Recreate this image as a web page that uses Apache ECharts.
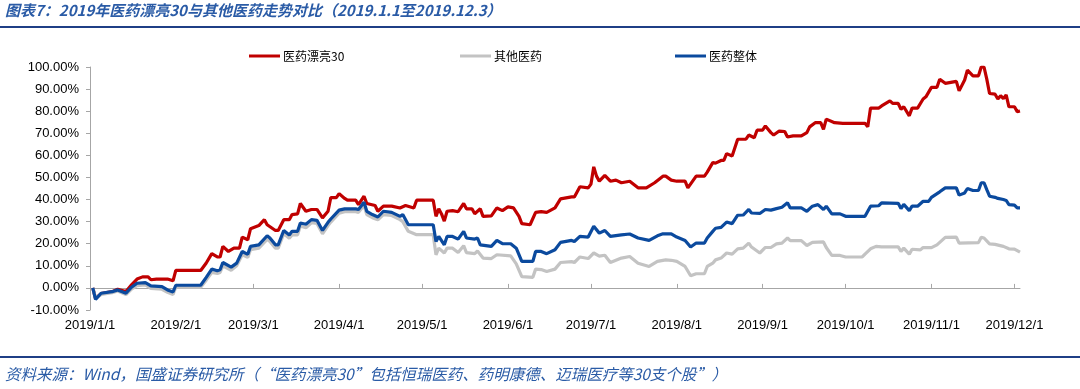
<!DOCTYPE html>
<html>
<head>
<meta charset="utf-8">
<script src="https://cdn.jsdelivr.net/npm/echarts@6/dist/echarts.min.js"></script>
<style>
html,body{margin:0;padding:0;background:#fff;}
#chart{width:1080px;height:389px;}
</style>
</head>
<body>
<div id="chart"></div>
<script>
// ---------- DATA ----------
const seriesNames = ['医药漂亮30', '其他医药', '医药整体'];
const monthTicks = ['2019-01-01','2019-02-01','2019-03-01','2019-04-01','2019-05-01','2019-06-01',
  '2019-07-01','2019-08-01','2019-09-01','2019-10-01','2019-11-01','2019-12-01'];
const yTicks = [-10,0,10,20,30,40,50,60,70,80,90,100];

const redDates = ['01-02','01-03','01-05','01-09','01-11','01-14','01-16','01-18','01-20','01-22','01-23','01-25','01-29','01-31',
 '02-01','02-10','02-12','02-14','02-16','02-17','02-18','02-20','02-22','02-24','02-25','02-27','02-28',
 '03-03','03-05','03-06','03-09','03-10','03-12','03-14','03-15','03-17','03-18','03-20','03-22','03-24','03-26','03-28','03-29','03-31',
 '04-01','04-03','04-04','04-07','04-08','04-10','04-11','04-14','04-15','04-17','04-20','04-23','04-25','04-28','04-29',
 '05-05','05-06','05-07','05-08','05-09','05-10','05-12','05-14','05-16','05-17','05-19','05-20','05-22','05-23','05-26','05-28','05-30',
 '06-01','06-03','06-05','06-06','06-09','06-11','06-13','06-15','06-18','06-20','06-24','06-25','06-27','06-30',
 '07-01','07-02','07-03','07-04','07-06','07-08','07-10','07-12','07-15','07-18','07-21','07-24','07-27','07-28','07-30',
 '08-01','08-04','08-05','08-08','08-11','08-12','08-14','08-15','08-17','08-18','08-19','08-21','08-23','08-26','08-27','08-29','08-30',
 '09-01','09-02','09-04','09-05','09-07','09-09','09-10','09-12','09-15','09-17','09-18','09-20','09-22','09-23','09-24','09-27','09-30',
 '10-08','10-09','10-10','10-13','10-14','10-17','10-18','10-20','10-21','10-22','10-24','10-25','10-27','10-29','10-30',
 '11-01','11-03','11-04','11-06','11-10','11-11','11-13','11-14','11-16','11-18','11-19','11-20','11-21','11-22','11-24','11-25','11-26','11-27','11-28','11-29',
 '12-01','12-02','12-03'];
const redValues = [0,-4.8,-2.6,-1.7,-0.6,-1.6,1.4,4.0,5.0,5.0,3.7,4.0,4.0,3.2,
 7.9,7.9,11.3,15.5,14.0,14.0,18.8,16.5,18.0,18.0,23.0,21.8,26.8,
 28.2,30.9,28.6,26.0,26.0,30.9,30.9,33.2,33.5,38.2,34.7,35.5,35.5,31.7,34.7,40.9,40.9,
 42.7,40.5,39.7,39.7,37.7,41.5,38.2,37.3,34.7,37.0,37.0,36.2,37.3,36.2,39.7,
 39.7,32.4,35.8,33.5,30.2,34.7,35.0,34.5,38.2,35.8,35.8,33.6,35.8,32.4,32.6,36.2,35.0,
 36.7,36.2,32.4,29.1,28.6,34.2,34.5,34.2,36.2,40.3,41.2,41.2,45.8,45.3,
 47.0,54.8,50.6,48.3,50.9,48.3,48.8,47.6,48.3,45.3,45.3,47.6,50.6,50.6,48.8,
 48.3,48.3,45.3,50.6,50.6,52.4,56.7,56.5,57.7,57.7,60.8,59.7,67.3,67.3,69.2,68.0,71.4,
 71.4,73.3,70.3,69.2,71.0,70.8,68.3,68.8,68.8,70.3,72.9,74.8,74.8,71.8,76.4,74.8,74.5,
 74.5,72.9,81.4,81.4,82.4,84.7,83.5,83.5,80.9,82.0,77.9,81.4,81.4,85.5,86.5,
 90.8,90.8,94.5,92.6,93.5,89.2,94.1,98.6,96.0,96.0,100.0,100.0,94.5,88.0,87.7,85.5,87.0,85.7,87.4,82.0,
 82.0,79.8,80.1];

const blueDates = ['01-02','01-03','01-05','01-09','01-11','01-14','01-16','01-18','01-21','01-23','01-27','01-29','01-31',
 '02-01','02-10','02-12','02-14','02-16','02-17','02-18','02-21','02-23','02-25','02-27','02-28',
 '03-03','03-06','03-07','03-09','03-10','03-12','03-14','03-15','03-17','03-18','03-20','03-22','03-24','03-26','03-28','03-29',
 '04-01','04-03','04-07','04-08','04-10','04-11','04-13','04-15','04-17','04-20','04-23','04-24','04-26',
 '05-05','05-06','05-07','05-09','05-10','05-12','05-14','05-16','05-17','05-20','05-21','05-22','05-26','05-28','05-30',
 '06-02','06-04','06-06','06-10','06-11','06-13','06-15','06-18','06-20','06-24','06-25','06-27','06-30',
 '07-02','07-04','07-06','07-08','07-12','07-15','07-18','07-22','07-25','07-27','07-30',
 '08-01','08-04','08-06','08-08','08-11','08-12','08-14','08-15','08-17','08-19','08-21','08-23','08-25','08-27','08-28','08-31',
 '09-02','09-04','09-06','09-08','09-10','09-11','09-15','09-17','09-19','09-21','09-23','09-24','09-26','09-29',
 '10-01','10-08','10-10','10-13','10-14','10-20','10-21','10-22','10-24','10-25','10-27','10-29','10-31',
 '11-01','11-04','11-06','11-10','11-11','11-13','11-14','11-16','11-18','11-19','11-20','11-21','11-22','11-24','11-25','11-27','11-28','11-29',
 '12-01','12-02','12-03'];
const blueValues = [0,-5.2,-2.4,-1.7,-0.9,-2.4,0.3,2.1,2.4,0.9,0.6,-0.9,-1.8,
 1.2,1.2,4.8,8.5,7.8,8.2,11.5,9.4,11.2,16.5,15.2,18.8,
 19.5,23.6,22.6,19.5,19.5,26.0,24.0,25.6,25.6,29.4,28.8,30.9,30.6,26.0,29.7,31.2,
 35.2,35.8,35.8,35.5,38.8,34.7,33.2,32.1,34.7,34.2,32.4,33.2,28.6,
 28.6,21.0,23.3,19.5,23.3,23.3,22.1,25.6,22.6,22.1,22.6,19.5,18.8,21.5,20.0,
 20.0,18.0,12.0,12.0,16.5,16.5,15.5,17.3,20.6,21.5,21.0,23.3,23.0,
 27.9,24.8,26.0,23.3,24.0,24.4,22.6,21.5,23.6,24.5,24.5,
 23.0,21.5,18.5,20.3,20.3,22.6,25.6,27.0,27.4,29.8,29.1,32.9,33.0,35.5,33.9,33.7,
 35.5,35.2,35.9,36.5,38.5,36.2,36.2,34.7,37.0,37.7,35.5,37.0,33.5,33.5,
 32.4,32.4,37.0,37.2,38.5,38.3,35.9,37.8,35.0,37.0,37.0,39.2,39.2,
 41.0,43.5,45.3,45.3,42.0,43.0,45.0,44.1,44.1,47.6,47.6,44.5,41.5,41.0,40.5,40.0,39.6,37.7,
 37.5,36.2,36.2];

const grayDates = ['01-02','01-03','01-05','01-09','01-11','01-14','01-16','01-18','01-21','01-23','01-27','01-29','01-31',
 '02-01','02-10','02-12','02-14','02-16','02-17','02-18','02-21','02-23','02-25','02-27','02-28',
 '03-03','03-06','03-07','03-09','03-10','03-12','03-14','03-15','03-17','03-18','03-20','03-22','03-24','03-26','03-28','03-29',
 '04-01','04-03','04-07','04-08','04-10','04-11','04-13','04-15','04-17','04-20','04-23','04-24','04-26','04-29',
 '05-05','05-06','05-07','05-09','05-10','05-12','05-14','05-16','05-17','05-20','05-21','05-23','05-26','05-28',
 '06-02','06-04','06-06','06-10','06-11','06-13','06-15','06-18','06-20','06-24','06-25','06-27','06-30',
 '07-02','07-04','07-06','07-08','07-12','07-15','07-18','07-22','07-25','07-28','07-30',
 '08-01','08-04','08-06','08-08','08-11','08-12','08-14','08-15','08-17','08-19','08-21','08-23','08-25','08-27','08-28','08-31',
 '09-02','09-04','09-06','09-08','09-10','09-11','09-15','09-17','09-19','09-23','09-24','09-26','09-29',
 '10-01','10-07','10-08','10-10','10-12','10-14','10-20','10-21','10-22','10-24','10-25','10-28','10-29',
 '11-01','11-03','11-06','11-10','11-11','11-18','11-19','11-20','11-22','11-24','11-27','11-29',
 '12-01','12-03'];
const grayValues = [0,-4.5,-3.0,-2.2,-1.4,-3.0,-0.5,1.0,1.4,-0.2,-0.6,-2.0,-3.0,
 0.3,0.3,3.5,7.0,6.5,7.0,10.0,8.0,10.0,15.0,13.8,17.3,
 18.0,22.0,21.0,18.0,18.0,24.5,22.5,24.0,24.0,28.0,27.2,29.5,29.2,24.5,28.2,29.8,
 33.8,34.5,34.5,34.2,37.3,33.2,31.8,30.8,33.2,32.8,30.9,30.0,25.6,24.1,
 24.1,15.0,18.0,15.8,18.0,18.0,16.0,19.1,16.0,15.5,16.7,13.5,13.3,15.0,
 14.5,10.9,5.1,4.8,8.5,8.3,7.4,8.5,11.5,11.9,11.5,14.0,13.3,
 15.8,14.4,14.8,11.5,13.5,14.2,11.2,9.7,12.0,12.7,12.5,
 12.0,9.7,5.5,6.4,6.4,9.7,11.2,12.7,13.5,15.8,15.3,17.7,18.0,20.3,18.5,15.8,
 18.3,18.3,19.9,20.3,22.6,21.4,21.4,19.2,20.6,20.8,18.3,14.7,14.7,
 14.0,14.0,15.3,17.7,18.8,18.6,18.6,16.5,18.0,15.3,17.5,17.2,18.3,
 18.2,19.5,22.9,23.0,20.3,20.5,22.9,22.6,19.9,19.7,18.8,17.7,
 17.6,16.2];

// ---------- BUILD ----------
function ts(s){ const p = s.split('-').map(Number); return new Date(p[0], p[1]-1, p[2]).getTime(); }
function pairs(dates, vals){ return dates.map((d,i)=>[ts('2019-'+d), vals[i]]); }
const monthTickTs = monthTicks.map(ts);
function fmtDate(v){ const d = new Date(v); return d.getFullYear()+'/'+(d.getMonth()+1)+'/'+d.getDate(); }

const xMin = ts('2019-01-01'), xMax = ts('2019-12-03');
const axisFont = '"Liberation Sans", Arial, sans-serif';
const cjkFont = '"Noto Sans CJK SC", sans-serif';
const blueText = '#2A5BA6';

const legendBase = {padding:0, top:50, icon:'rect', itemWidth:31, itemHeight:3, itemGap:0,
  textStyle:{fontFamily:cjkFont, fontSize:12, color:'#000', padding:[0,0,0,-2]}};

const chart = echarts.init(document.getElementById('chart'), null, {renderer:'canvas'});
chart.setOption({
  animation:false,
  backgroundColor:'#fff',
  grid:{left:90, right:60, top:67, bottom:79, containLabel:false},
  legend:[
    Object.assign({}, legendBase, {data:[seriesNames[0]], left:249}),
    Object.assign({}, legendBase, {data:[seriesNames[1]], left:460}),
    Object.assign({}, legendBase, {data:[seriesNames[2]], left:675})
  ],
  xAxis:[
    {type:'value', min:xMin, max:xMax, scale:true,
      axisLine:{show:true, onZero:true, lineStyle:{color:'#A6A6A6', width:1}},
      axisTick:{show:true, inside:true, length:4, customValues:monthTickTs, lineStyle:{color:'#A6A6A6'}},
      axisLabel:{show:false},
      splitLine:{show:false}},
    {type:'value', min:xMin, max:xMax, scale:true, position:'bottom',
      axisLine:{show:false, onZero:false},
      axisTick:{show:false},
      axisLabel:{show:true, customValues:monthTickTs, formatter:fmtDate, margin:9,
        fontFamily:axisFont, fontSize:13, color:'#000', hideOverlap:false},
      splitLine:{show:false}}
  ],
  yAxis:{type:'value', min:yTicks[0], max:yTicks[yTicks.length-1], interval:10,
    axisLine:{show:true, onZero:false, lineStyle:{color:'#A6A6A6', width:1}},
    axisTick:{show:true, inside:false, length:4, lineStyle:{color:'#A6A6A6'}},
    axisLabel:{formatter:v=>v.toFixed(2)+'%', fontFamily:axisFont, fontSize:13, color:'#000', margin:11},
    splitLine:{show:false}},
  series:[
    {name:seriesNames[0], type:'line', showSymbol:false, symbol:'none', data:pairs(redDates, redValues),
      lineStyle:{color:'#C00000', width:3.2}, itemStyle:{color:'#C00000'}},
    {name:seriesNames[1], type:'line', showSymbol:false, symbol:'none', data:pairs(grayDates, grayValues),
      lineStyle:{color:'#C3C3C3', width:3.2}, itemStyle:{color:'#C3C3C3'}},
    {name:seriesNames[2], type:'line', showSymbol:false, symbol:'none', data:pairs(blueDates, blueValues),
      lineStyle:{color:'#0B4A9E', width:3.2}, itemStyle:{color:'#0B4A9E'}}
  ],
  graphic:[
    {type:'text', left:5, top:3, style:{text:'图表7：2019年医药漂亮30与其他医药走势对比（2019.1.1至2019.12.3）',
      fill:blueText, font:'italic bold 15px "Noto Sans CJK SC", sans-serif'}},
    {type:'rect', left:0, top:26, shape:{width:1080, height:2}, style:{fill:'#1F3F86'}},
    {type:'rect', left:0, top:356, shape:{width:1080, height:2}, style:{fill:'#1F3F86'}},
    {type:'text', left:5, top:366, style:{text:'资料来源：Wind，国盛证券研究所（“医药漂亮30”包括恒瑞医药、药明康德、迈瑞医疗等30支个股”）',
      fill:blueText, font:'italic 15.5px "Noto Sans CJK SC", sans-serif'}}
  ]
});
</script>
</body>
</html>
